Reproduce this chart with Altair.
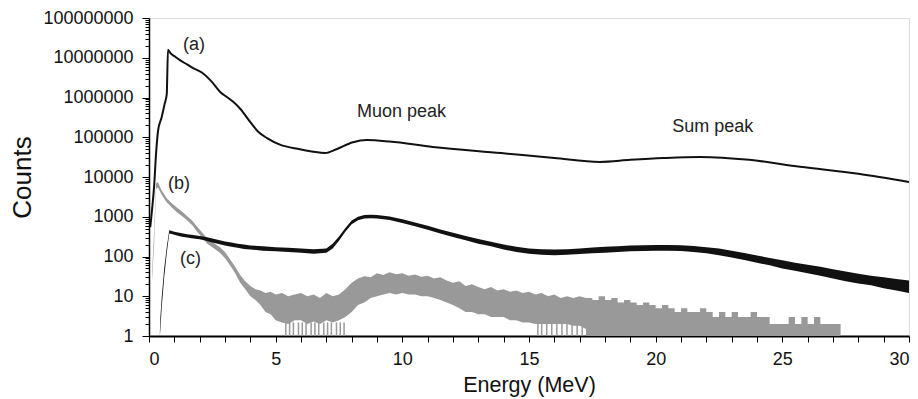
import altair as alt
import pandas as pd

# ---------------- data ----------------
# (a) smooth spectrum
a_e = [0.05, 0.12, 0.2, 0.28, 0.36, 0.5, 0.62, 0.7, 0.75, 0.85, 1.0, 1.22, 1.5, 1.74,
       2.1, 2.5, 2.8, 3.1, 3.3, 3.6, 4.0, 4.3, 4.66, 5.17, 5.96, 6.5, 6.95, 7.4, 8.05,
       8.6, 9.5, 11.2, 13.9, 16.0, 17.8, 19.0, 20.3, 21.75, 23.7, 25.7, 28.0, 30.0]
a_c = [550, 1500, 5600, 40000, 150000, 320000, 700000, 1200000, 16000000, 13000000,
       11000000, 8700000, 6800000, 5500000, 4200000, 2400000, 1400000, 1000000, 800000,
       520000, 240000, 140000, 95000, 65000, 50000, 43000, 40000, 50000, 75000, 85000,
       78000, 57000, 40000, 30000, 24000, 27000, 30000, 32000, 27000, 18000, 12000, 7500]

# (b) grey spectrum: lower / upper envelope of the noisy trace
b_e = [0.12, 0.2, 0.28, 0.35, 0.5, 0.7, 0.9, 1.1, 1.3, 1.5, 1.7, 1.9, 2.1, 2.3, 2.5,
       2.8, 3.0, 3.2, 3.4, 3.6, 3.8, 4.0, 4.2, 4.4, 4.6, 4.8, 5.0, 5.25, 5.5, 5.75,
       6.0, 6.25, 6.5, 6.75, 7.0, 7.25, 7.5, 7.75, 8.0, 8.25, 8.5, 8.75, 9.0, 9.25,
       9.5, 9.75, 10.0, 10.25, 10.5, 10.75, 11.0, 11.25, 11.5, 11.75, 12.0, 12.25,
       12.5, 12.75, 13.0, 13.25, 13.5, 13.75, 14.0, 14.25, 14.5, 14.75, 15.0, 15.25,
       15.5, 15.75, 16.0, 16.25, 16.5, 16.75, 17.0, 17.25]
b_lo = [25, 200, 5000, 5500, 3600, 2300, 1700, 1300, 1050, 820, 620, 420, 300, 210, 170,
        125, 90, 60, 38, 22, 15, 10, 8, 6, 4, 3.5, 2.5, 2.2, 2, 2.5,
        2.5, 2, 2.3, 2, 2.5, 2.2, 2.5, 3, 4, 6, 7, 9, 10, 11,
        12, 11, 12, 11, 11, 10, 10, 9, 8, 7, 6, 5,
        4, 4, 3.5, 3.5, 3, 3, 3, 2.5, 2.5, 2.2, 2.2, 2,
        2, 2, 2, 2, 2, 1.8, 1.8, 1.5]
b_hi = [40, 400, 7000, 7500, 4600, 2900, 2200, 1700, 1350, 1050, 800, 560, 400, 280, 230,
        170, 130, 85, 55, 34, 24, 18, 15, 14, 12, 13, 11, 12, 10, 11,
        12, 10, 11, 9, 12, 10, 11, 15, 22, 28, 32, 30, 38, 34,
        40, 36, 38, 33, 35, 31, 33, 28, 30, 25, 22, 24,
        18, 20, 17, 15, 17, 14, 15, 13, 14, 12, 13, 11,
        12, 10, 11, 9, 10, 9, 10, 9]

# (b) low-count tail, drawn as bars from 1
bt_e = [17.25, 17.5, 17.75, 18.0, 18.25, 18.5, 18.75, 19.0, 19.25, 19.5, 19.75, 20.0,
        20.25, 20.5, 20.75, 21.0, 21.25, 21.5, 21.75, 22.0, 22.25, 22.5, 22.75, 23.0,
        23.25, 23.5, 23.75, 24.0, 24.25, 24.5, 24.75, 25.0, 25.25, 25.5, 25.75, 26.0,
        26.25, 26.5, 26.75, 27.0, 27.3]
bt_hi = [9, 8, 10, 8, 9, 7, 8, 7, 6, 7, 6, 5,
         6, 5, 4, 5, 4, 4, 5, 4, 3, 4, 3, 4,
         3, 3, 4, 3, 3, 2, 2, 2, 3, 2, 3, 2,
         3, 2, 2, 2, 2]
bt_lo = [1] * len(bt_e)

# (b) isolated drops to 1 count
sp_e = [5.4, 5.55, 5.7, 5.9, 6.05, 6.2, 6.4, 6.55, 6.7, 6.9, 7.05, 7.2, 7.4, 7.55, 7.7,
        15.35, 15.5, 15.7, 15.9, 16.1, 16.3, 16.5, 16.7, 16.9, 17.1]
sp_top = [2.2] * 15 + [2.0] * 10
sp_bot = [1] * len(sp_e)

# (c) black noisy spectrum: lower / upper envelope
c_e = [0.43, 0.45, 0.5, 0.6, 0.7, 0.8, 0.9, 1.0, 1.25, 1.5, 1.75, 2.0, 2.25, 2.5, 2.75,
       3.0, 3.25, 3.5, 3.75, 4.0, 4.5, 5.0, 5.5, 6.0, 6.5, 7.0, 7.25, 7.5, 7.75, 8.0,
       8.25, 8.5, 8.75, 9.0, 9.5, 10.0, 10.5, 11.0, 11.5, 12.0, 12.5, 13.0, 13.5, 14.0,
       14.5, 15.0, 15.5, 16.0, 16.5, 17.0, 17.5, 18.0, 18.5, 19.0, 19.5, 20.0, 20.5,
       21.0, 21.5, 22.0, 22.5, 23.0, 23.5, 24.0, 24.5, 25.0, 25.5, 26.0, 26.5, 27.0,
       27.5, 28.0, 28.5, 29.0, 29.5, 30.0]
c_lo = [1, 1.5, 5, 30, 120, 380, 370, 350, 320, 300, 285, 270, 250, 225, 205,
        190, 175, 165, 155, 150, 140, 135, 130, 125, 118, 125, 160, 250, 420, 650,
        820, 900, 920, 900, 830, 700, 580, 470, 380, 310, 255, 210, 180, 150,
        130, 118, 110, 108, 110, 115, 120, 125, 130, 135, 138, 140, 140,
        137, 130, 120, 108, 95, 82, 70, 60, 50, 44, 38, 33, 28,
        24, 21, 19, 16, 14, 12]
c_hi = [1.3, 3, 9, 50, 170, 460, 440, 420, 390, 365, 345, 330, 310, 285, 260,
        240, 225, 210, 200, 190, 180, 172, 165, 160, 152, 160, 210, 320, 520, 800,
        1000, 1100, 1120, 1100, 1020, 860, 720, 590, 480, 395, 330, 275, 235, 200,
        175, 160, 152, 150, 152, 160, 168, 175, 180, 188, 192, 195, 195,
        192, 185, 172, 158, 140, 122, 106, 92, 80, 70, 62, 55, 48,
        42, 37, 33, 30, 27, 25]

# annotations (text, energy, counts)
lab_text = ["(a)", "(b)", "(c)", "Muon peak", "Sum peak"]
lab_e = [1.34, 0.75, 1.22, 8.21, 20.65]
lab_c = [21000000, 6600, 87, 440000, 176000]

# ---------------- chart ----------------
FONT = "Liberation Sans"
BLACK = "#111111"
GREY = "#999999"

y_vals = []
for p in range(8):
    for m in range(1, 10):
        y_vals.append(m * 10 ** p)
y_vals.append(10 ** 8)

is_major = "abs(log(datum.value)/LN10 - round(log(datum.value)/LN10)) < 0.001"

xscale = alt.Scale(domain=[0, 30], nice=False, zero=False)
yscale = alt.Scale(type="log", domain=[1, 100000000], nice=False)

xaxis = alt.Axis(
    title="Energy (MeV)", values=list(range(0, 31)),
    labelExpr="datum.value % 5 == 0 ? datum.label : ''",
    labelOverlap=False, grid=False, tickSize=6, tickColor="#000", tickWidth=1,
    domainColor="#000", domainWidth=2, labelPadding=8, labelFontSize=18,
    labelFont=FONT, labelColor=BLACK, titleFont=FONT, titleFontSize=21.5,
    titleFontWeight="normal", titleColor=BLACK, titlePadding=6,
)
yaxis = alt.Axis(
    title="Counts", values=y_vals, format="d",
    labelExpr=is_major + " ? datum.label : ''",
    labelOverlap=False, grid=False,
    tickSize={"condition": {"test": is_major, "value": 7}, "value": 4},
    tickColor="#000", tickWidth=1, domainColor="#000", domainWidth=1.5,
    labelPadding=9, labelFontSize=18, labelFont=FONT, labelColor=BLACK,
    titleFont=FONT, titleFontSize=26, titleFontWeight="normal", titleColor=BLACK,
    titlePadding=7,
)

X = alt.X("e:Q", scale=xscale, axis=xaxis, title="Energy (MeV)")


def Y(field):
    return alt.Y(field, type="quantitative", scale=yscale, axis=yaxis, title="Counts")


a_df = pd.DataFrame({"e": a_e, "c": a_c})
b_df = pd.DataFrame({"e": b_e, "lo": b_lo, "hi": b_hi})
bt_df = pd.DataFrame({"e": bt_e, "lo": bt_lo, "hi": bt_hi})
sp_df = pd.DataFrame({"e": sp_e, "lo": sp_bot, "hi": sp_top})
c_df = pd.DataFrame({"e": c_e, "lo": c_lo, "hi": c_hi})
lab_df = pd.DataFrame({"t": lab_text, "e": lab_e, "c": lab_c})

b_band = alt.Chart(b_df).mark_area(color=GREY, opacity=1).encode(
    x=X, y=Y("hi"), y2="lo:Q",
)
b_tail = alt.Chart(bt_df).mark_area(color=GREY, opacity=1, interpolate="step-after").encode(
    x=X, y=Y("hi"), y2="lo:Q",
)
b_spk = alt.Chart(sp_df).mark_rule(color=GREY, strokeWidth=1.5).encode(
    x=X, y=Y("hi"), y2="lo:Q",
)
c_band = alt.Chart(c_df).mark_area(color=BLACK, opacity=1).encode(
    x=X, y=Y("hi"), y2="lo:Q",
)
a_line = alt.Chart(a_df).mark_line(color=BLACK, strokeWidth=2, interpolate="monotone").encode(
    x=X, y=Y("c"),
)
labels = alt.Chart(lab_df).mark_text(
    align="left", baseline="middle", font=FONT, fontSize=18, color="#222222"
).encode(
    x=X, y=Y("c"), text="t:N",
)

chart = alt.layer(b_band, b_tail, b_spk, c_band, a_line, labels).properties(
    width=760, height=318,
    autosize=alt.AutoSizeParams(type="none"),
    padding={"left": 141, "top": 10, "right": 1, "bottom": 63},
).configure_view(stroke="#8c8c8c", strokeWidth=1.5).configure(background="white")

chart.save("out.html", embed_options={"renderer": "svg", "actions": False})
